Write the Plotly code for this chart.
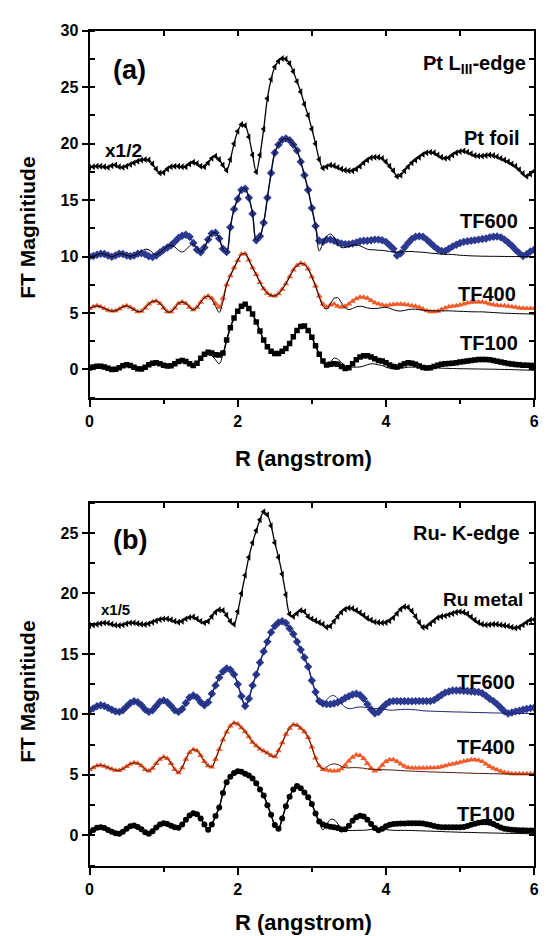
import numpy as np
import plotly.graph_objects as go

# R grid (angstrom), sampled every 0.05 from 0 to 6
R = [round(i * 0.05, 2) for i in range(121)]

# ---------------- Panel (a): Pt L_III-edge ----------------
pt_foil = [17.9, 17.95, 18.0, 18.0, 17.95, 17.9, 18.05, 18.1, 17.95, 17.9,
           18.0, 18.15, 18.3, 18.45, 18.55, 18.6, 18.55, 18.2, 17.75, 17.4,
           17.45, 17.75, 17.95, 18.0, 18.0, 17.95, 17.95, 18.2, 18.35, 18.25,
           18.0, 17.95, 18.3, 18.7, 18.9, 18.6, 18.1, 17.65, 18.6, 20.0,
           21.1, 21.7, 21.6, 20.6, 19.0, 17.5, 19.0, 21.3, 24.0, 25.7,
           26.8, 27.3, 27.55, 27.5, 27.1, 26.4, 25.5, 24.6, 23.5, 22.5,
           21.3, 20.0, 18.6, 17.85, 17.95, 18.1, 18.05, 17.9, 17.75, 17.65,
           17.6, 17.6, 17.75, 18.0, 18.3, 18.55, 18.75, 18.8, 18.8, 18.7,
           18.4, 18.0, 17.6, 17.1, 17.2, 17.6, 17.95, 18.3, 18.55, 18.8,
           19.05, 19.2, 19.25, 19.2, 19.0, 18.8, 18.7, 18.75, 19.0, 19.2,
           19.3, 19.35, 19.25, 19.1, 18.95, 18.9, 18.9, 18.95, 19.0, 18.95,
           18.85, 18.7, 18.55, 18.4, 18.2, 18.0, 17.7, 17.35, 17.1, 17.3,
           17.55]

tf600_a = [10.0, 10.05, 10.15, 10.25, 10.22, 10.1, 9.98, 10.1, 10.25, 10.22,
           10.1, 10.03, 10.1, 10.25, 10.3, 10.2, 10.02, 9.95, 10.1, 10.35,
           10.6, 10.8, 11.0, 11.3, 11.65, 11.85, 11.93, 11.75, 11.2, 10.6,
           10.38, 10.8, 11.5, 12.05, 12.1, 11.6, 10.7, 10.4, 12.6, 14.2,
           15.1, 15.9, 16.0, 15.2, 13.8, 11.45, 11.8, 13.0, 15.2, 17.4,
           19.2, 19.9, 20.35, 20.45, 20.3, 19.9, 19.4, 18.4, 17.2, 15.9,
           14.3, 12.7, 11.4, 11.3, 11.5, 11.5, 11.4, 11.25, 11.15, 11.1,
           11.1, 11.15, 11.25, 11.35, 11.4, 11.4, 11.45, 11.5, 11.5, 11.45,
           11.3, 11.0, 10.7, 10.1, 10.3, 10.8, 11.2, 11.55, 11.75, 11.8,
           11.75, 11.5, 11.2, 10.9, 10.65, 10.5, 10.5, 10.7, 10.9, 11.05,
           11.2, 11.3, 11.35, 11.4, 11.45, 11.5, 11.55, 11.6, 11.7, 11.75,
           11.78, 11.7, 11.5, 11.25, 10.95, 10.6, 10.3, 10.05, 10.2, 10.45,
           10.6]
fit600_a_low = [10.45, 10.65, 10.6, 10.35, 10.15, 10.35, 10.65, 10.9, 11.0, 10.85,
                10.55, 10.4, 10.6, 10.95, 11.1, 10.8, 10.4]          # R 0.70-1.50
fit600_a_tail = [10.5, 11.2, 11.8, 12.0, 11.7, 11.1, 10.8, 10.8, 10.9, 11.0,
                 11.05, 10.95, 10.8, 10.65, 10.6, 10.6, 10.55, 10.55, 10.5, 10.45,
                 10.4, 10.4, 10.4, 10.42, 10.45, 10.45, 10.42, 10.4, 10.38, 10.35,
                 10.3, 10.28, 10.25, 10.22, 10.2, 10.2, 10.18, 10.15, 10.12, 10.1,
                 10.08, 10.06, 10.05, 10.04, 10.03, 10.03, 10.02, 10.02, 10.02, 10.01,
                 10.01, 10.0, 10.0, 10.0, 10.0, 10.0, 10.0, 10.0, 10.0]   # R 3.10-6.00

tf400_a = [5.4, 5.55, 5.63, 5.55, 5.4, 5.25, 5.17, 5.2, 5.35, 5.55,
           5.63, 5.5, 5.3, 5.12, 5.15, 5.45, 5.8, 6.0, 6.07, 5.85,
           5.45, 5.1, 5.1, 5.45, 5.85, 5.98, 5.85, 5.5, 5.28, 5.5,
           5.95, 6.35, 6.5, 6.3, 5.85, 5.5, 6.3, 7.5, 8.3, 9.0,
           9.65, 10.2, 10.25, 9.7, 9.0, 8.4, 7.7, 7.15, 6.75, 6.55,
           6.5, 6.7, 7.1, 7.6, 8.2, 8.8, 9.2, 9.4, 9.3, 8.9,
           8.2, 7.4, 6.5, 5.8, 5.5, 5.7, 5.8, 5.6, 5.5, 5.6,
           5.8, 6.05, 6.25, 6.4, 6.4, 6.3, 6.1, 5.9, 5.8, 5.7,
           5.65, 5.7, 5.75, 5.78, 5.77, 5.75, 5.7, 5.65, 5.6, 5.5,
           5.35, 5.2, 5.12, 5.1, 5.15, 5.3, 5.45, 5.55, 5.6, 5.65,
           5.7, 5.8, 5.88, 5.95, 5.97, 5.98, 5.97, 5.9, 5.8, 5.72,
           5.68, 5.65, 5.63, 5.6, 5.55, 5.5, 5.45, 5.42, 5.4, 5.4,
           5.4]
fit400_a_low = [6.2, 5.6, 5.05, 6.0]                                 # R 1.65-1.80
fit400_a_tail = [6.4, 5.6, 5.35, 5.8, 6.3, 6.35, 5.9, 5.45, 5.3, 5.4,
                 5.55, 5.6, 5.55, 5.45, 5.4, 5.4, 5.42, 5.48, 5.5, 5.42,
                 5.3, 5.2, 5.18, 5.22, 5.3, 5.34, 5.34, 5.3, 5.25, 5.22,
                 5.2, 5.19, 5.18, 5.18, 5.19, 5.19, 5.18, 5.16, 5.15, 5.14,
                 5.12, 5.11, 5.1, 5.1, 5.1, 5.08, 5.06, 5.04, 5.02, 5.0,
                 4.98, 4.97, 4.96, 4.95, 4.94, 4.93, 4.92, 4.91, 4.9]

tf100_a = [0.12, 0.22, 0.28, 0.29, 0.22, 0.1, 0.0, 0.02, 0.15, 0.32,
           0.41, 0.35, 0.2, 0.05, 0.03, 0.2, 0.42, 0.55, 0.59, 0.5,
           0.38, 0.3, 0.32, 0.5, 0.7, 0.79, 0.7, 0.5, 0.35, 0.55,
           1.0, 1.35, 1.52, 1.45, 1.3, 1.28, 1.45, 2.6, 3.7, 4.55,
           5.15, 5.6, 5.78, 5.4, 4.9, 4.2, 3.4, 2.6, 2.0, 1.6,
           1.4, 1.4, 1.6, 1.85, 2.3, 2.9, 3.45, 3.8, 3.85, 3.45,
           2.85, 2.1, 1.35, 0.75, 0.4, 0.45, 0.5, 0.45, 0.25, 0.08,
           0.15, 0.5, 0.85, 1.1, 1.22, 1.2, 1.1, 0.95, 0.8, 0.75,
           0.6, 0.4, 0.25, 0.22, 0.35, 0.5, 0.58, 0.55, 0.45, 0.3,
           0.18, 0.12, 0.15, 0.25, 0.38, 0.45, 0.5, 0.52, 0.55, 0.6,
           0.65, 0.7, 0.75, 0.8, 0.84, 0.87, 0.88, 0.88, 0.86, 0.8,
           0.72, 0.65, 0.58, 0.52, 0.48, 0.44, 0.41, 0.38, 0.36, 0.35,
           0.35]
fit100_a_low = [0.35, 0.15, 0.2, 0.45, 0.7, 0.75, 0.6, 0.35, 0.25, 0.5,
                0.9, 1.2, 1.3, 1.2, 0.85, 0.5, 1.3]                  # R 1.00-1.80
fit100_a_tail = [1.35, 0.6, 0.2, 0.6, 1.0, 0.9, 0.6, 0.35, 0.25, 0.2,
                 0.2, 0.22, 0.3, 0.42, 0.5, 0.48, 0.4, 0.35, 0.2, 0.1,
                 0.06, 0.06, 0.1, 0.15, 0.2, 0.2, 0.2, 0.18, 0.16, 0.15,
                 0.14, 0.13, 0.12, 0.11, 0.1, 0.09, 0.08, 0.07, 0.06, 0.06,
                 0.05, 0.05, 0.04, 0.04, 0.03, 0.03, 0.02, 0.02, 0.01, 0.0,
                 0.0, -0.01, -0.02, -0.03, -0.04, -0.05, -0.06, -0.07, -0.08]

# ---------------- Panel (b): Ru K-edge ----------------
ru_metal = [17.35, 17.38, 17.45, 17.52, 17.57, 17.55, 17.45, 17.38, 17.35, 17.4,
            17.5, 17.57, 17.57, 17.52, 17.45, 17.43, 17.5, 17.62, 17.75, 17.85,
            17.9, 17.9, 17.82, 17.7, 17.62, 17.7, 17.9, 18.02, 18.05, 17.9,
            17.7, 17.57, 17.7, 18.1, 18.45, 18.65, 18.6, 18.2, 17.7, 17.45,
            18.5, 20.0, 21.5, 23.0, 24.2, 25.2, 26.1, 26.75, 26.5, 25.6,
            24.2, 23.0, 21.6, 19.9, 18.3, 18.1, 18.35, 18.6, 18.5, 18.1,
            17.9, 17.75, 17.6, 17.45, 17.2, 17.3, 17.7, 18.1, 18.45, 18.7,
            18.8, 18.75, 18.6, 18.4, 18.2, 17.95, 17.8, 17.65, 17.6, 17.57,
            17.6, 17.75, 18.0, 18.35, 18.7, 18.9, 18.85, 18.55, 18.1, 17.6,
            17.2, 17.25, 17.5, 17.75, 18.0, 18.1, 18.15, 18.25, 18.35, 18.45,
            18.5, 18.45, 18.3, 18.05, 17.8, 17.6, 17.45, 17.4, 17.42, 17.45,
            17.45, 17.4, 17.35, 17.3, 17.2, 17.15, 17.2, 17.4, 17.6, 17.8,
            17.85]

tf600_b = [10.35, 10.5, 10.68, 10.75, 10.7, 10.55, 10.38, 10.25, 10.21, 10.35,
           10.65, 10.95, 11.08, 11.0, 10.75, 10.4, 10.21, 10.35, 10.7, 11.05,
           11.16, 11.0, 10.7, 10.35, 10.21, 10.45, 10.95, 11.4, 11.57, 11.4,
           11.0, 10.75, 11.0, 11.7, 12.4, 13.05, 13.55, 13.8, 13.7, 13.3,
           12.5, 11.5, 10.7, 11.3, 12.4, 13.3, 14.3, 15.2, 16.0, 16.8,
           17.3, 17.6, 17.7, 17.55, 17.1, 16.65, 16.0, 15.35, 14.7, 13.95,
           12.8, 11.85, 11.1, 10.9, 10.85, 10.85, 10.9, 11.0, 11.15, 11.35,
           11.5, 11.65, 11.7, 11.6, 11.3, 10.85, 10.4, 10.1, 10.2, 10.55,
           10.85, 11.05, 11.1, 11.1, 11.08, 11.08, 11.08, 11.08, 11.1, 11.1,
           11.1, 11.1, 11.1, 11.2, 11.4, 11.6, 11.8, 11.9, 11.97, 11.98,
           11.97, 11.95, 11.93, 11.9, 11.88, 11.85, 11.75, 11.55, 11.3, 11.1,
           10.85, 10.55, 10.25, 10.08, 10.15, 10.25, 10.3, 10.38, 10.45, 10.52,
           10.55]
fit600_b_tail = [10.9, 10.8, 11.2, 11.5, 11.55, 11.3, 10.9, 10.6, 10.48, 10.5,
                 10.58, 10.62, 10.6, 10.55, 10.5, 10.48, 10.48, 10.45, 10.4, 10.35,
                 10.35, 10.38, 10.4, 10.42, 10.42, 10.4, 10.38, 10.35, 10.3, 10.28,
                 10.27, 10.26, 10.25, 10.24, 10.23, 10.22, 10.21, 10.2, 10.2, 10.19,
                 10.18, 10.17, 10.16, 10.16, 10.15, 10.14, 10.13, 10.12, 10.12, 10.11,
                 10.1, 10.1, 10.09, 10.09, 10.08, 10.08, 10.08, 10.08, 10.08]

tf400_b = [5.45, 5.6, 5.75, 5.8, 5.72, 5.6, 5.48, 5.38, 5.37, 5.5,
           5.7, 5.9, 6.0, 5.95, 5.75, 5.45, 5.32, 5.55, 5.95, 6.3,
           6.47, 6.35, 5.95, 5.45, 5.18, 5.6, 6.3, 6.85, 7.1, 7.0,
           6.6, 6.1, 5.75, 5.65, 6.3, 7.1, 7.9, 8.55, 9.05, 9.3,
           9.2, 8.9, 8.57, 8.15, 7.7, 7.4, 7.15, 6.97, 6.8, 6.6,
           6.5, 7.0, 7.65, 8.35, 8.85, 9.15, 9.1, 8.85, 8.57, 8.1,
           7.3, 6.4, 5.75, 5.45, 5.4, 5.35, 5.33, 5.35, 5.5, 5.8,
           6.15, 6.45, 6.65, 6.6, 6.35, 5.95, 5.55, 5.32, 5.45, 5.8,
           6.1, 6.25, 6.25, 6.1, 5.9, 5.72, 5.62, 5.58, 5.57, 5.57,
           5.58, 5.58, 5.59, 5.6, 5.62, 5.68, 5.75, 5.83, 5.9, 5.97,
           6.05, 6.12, 6.2, 6.25, 6.26, 6.22, 6.1, 5.9, 5.7, 5.55,
           5.42, 5.3, 5.2, 5.15, 5.1, 5.1, 5.1, 5.1, 5.1, 5.1,
           5.1]
fit400_b_tail = [5.75, 5.5, 5.65, 5.85, 5.91, 5.85, 5.7, 5.6, 5.58, 5.6,
                 5.6, 5.58, 5.55, 5.5, 5.47, 5.45, 5.44, 5.43, 5.42, 5.41,
                 5.4, 5.38, 5.36, 5.34, 5.32, 5.31, 5.3, 5.28, 5.27, 5.26,
                 5.25, 5.24, 5.23, 5.22, 5.21, 5.2, 5.19, 5.18, 5.17, 5.16,
                 5.15, 5.14, 5.13, 5.12, 5.12, 5.11, 5.1, 5.1, 5.09, 5.08,
                 5.08, 5.07, 5.07, 5.06, 5.06, 5.06, 5.05, 5.05, 5.05]

tf100_b = [0.27, 0.45, 0.62, 0.68, 0.6, 0.45, 0.3, 0.18, 0.14, 0.3,
           0.55, 0.75, 0.82, 0.7, 0.5, 0.25, 0.14, 0.35, 0.65, 0.9,
           1.0, 0.95, 0.8, 0.68, 0.63, 0.9, 1.3, 1.65, 1.83, 1.75,
           1.4, 0.9, 0.46, 0.9, 1.6, 2.3, 3.5, 4.4, 4.85, 5.15,
           5.3, 5.25, 5.1, 4.95, 4.7, 4.3, 3.8, 3.3, 2.5, 1.7,
           0.85, 0.55, 1.4, 2.4, 3.2, 3.8, 4.08, 3.9, 3.55, 3.15,
           2.6, 1.8, 1.15, 0.9, 0.8, 0.72, 0.68, 0.6, 0.48, 0.5,
           0.8, 1.2, 1.5, 1.63, 1.55, 1.3, 0.95, 0.6, 0.42, 0.55,
           0.75, 0.88, 0.95, 0.97, 0.98, 0.98, 1.0, 1.0, 1.0, 1.0,
           0.98, 0.92, 0.85, 0.78, 0.72, 0.68, 0.68, 0.68, 0.68, 0.68,
           0.68, 0.7, 0.78, 0.88, 0.97, 1.04, 1.08, 1.09, 1.05, 0.95,
           0.8, 0.65, 0.55, 0.5, 0.47, 0.45, 0.43, 0.42, 0.41, 0.41,
           0.41]
fit100_b_tail = [1.1, 0.45, 0.9, 1.3, 1.3, 0.95, 0.6, 0.42, 0.4, 0.4,
                 0.41, 0.42, 0.42, 0.45, 0.5, 0.53, 0.54, 0.52, 0.48, 0.44,
                 0.42, 0.41, 0.41, 0.41, 0.41, 0.4, 0.39, 0.38, 0.37, 0.36,
                 0.35, 0.34, 0.33, 0.32, 0.3, 0.29, 0.28, 0.27, 0.26, 0.25,
                 0.25, 0.24, 0.23, 0.22, 0.21, 0.21, 0.2, 0.19, 0.19, 0.18,
                 0.17, 0.17, 0.16, 0.16, 0.15, 0.15, 0.14, 0.14, 0.14]

# fitted curves: coincide with the data at low R, deviate elsewhere
T = 62  # index of R = 3.10
fit600_a = tf600_a[:14] + fit600_a_low + tf600_a[31:T] + fit600_a_tail
fit400_a = tf400_a[:33] + fit400_a_low + tf400_a[37:T] + fit400_a_tail
fit100_a = tf100_a[:20] + fit100_a_low + tf100_a[37:T] + fit100_a_tail
fit600_b = tf600_b[:T] + fit600_b_tail
fit400_b = tf400_b[:T] + fit400_b_tail
fit100_b = tf100_b[:T] + fit100_b_tail

BLUE = "#2B3990"
ORANGE = "#F15A29"
FONT = "Liberation Sans, Arial, sans-serif"

fig = go.Figure()


def data_trace(y, color, symbol, size, xa, ya, lw=1.5):
    return go.Scatter(
        x=R, y=y, xaxis=xa, yaxis=ya, mode="lines+markers",
        line=dict(color=color, width=lw, shape="spline"),
        marker=dict(symbol=symbol, size=size, color=color, line=dict(width=0)),
        showlegend=False, hoverinfo="skip")


def fit_trace(y, color, xa, ya):
    return go.Scatter(x=R, y=y, xaxis=xa, yaxis=ya, mode="lines",
                      line=dict(color=color, width=1, shape="spline"),
                      showlegend=False, hoverinfo="skip")


# panel (a)
fig.add_trace(data_trace(pt_foil, "black", "triangle-left", 6, "x", "y", lw=1.3))
fig.add_trace(data_trace(tf600_a, BLUE, "diamond", 6.5, "x", "y"))
fig.add_trace(data_trace(tf400_a, ORANGE, "triangle-up", 6, "x", "y"))
fig.add_trace(data_trace(tf100_a, "black", "square", 5.5, "x", "y"))
fig.add_trace(fit_trace(fit600_a, "black", "x", "y"))
fig.add_trace(fit_trace(fit400_a, "black", "x", "y"))
fig.add_trace(fit_trace(fit100_a, "black", "x", "y"))

# panel (b)
fig.add_trace(data_trace(ru_metal, "black", "triangle-left", 6, "x2", "y2", lw=1.3))
fig.add_trace(data_trace(tf600_b, BLUE, "diamond", 6.5, "x2", "y2"))
fig.add_trace(data_trace(tf400_b, ORANGE, "triangle-up", 6, "x2", "y2"))
fig.add_trace(data_trace(tf100_b, "black", "circle", 6, "x2", "y2"))
fig.add_trace(fit_trace(fit600_b, "#1a2470", "x2", "y2"))
fig.add_trace(fit_trace(fit400_b, "#4a1a08", "x2", "y2"))
fig.add_trace(fit_trace(fit100_b, "black", "x2", "y2"))

# dummy traces so the mirror axes are drawn
for xa, ya in (("x3", "y3"), ("x4", "y4")):
    fig.add_trace(go.Scatter(x=[None], y=[None], xaxis=xa, yaxis=ya,
                             mode="markers", showlegend=False, hoverinfo="skip"))

W, H = 546, 936
xdom = [87 / W, 539 / W]
ydom_a = [1 - 393 / H, 1 - 23 / H]
ydom_b = [1 - 865 / H, 1 - 499 / H]

tickfont = dict(family=FONT, size=16, color="black", weight="bold")

common_x = dict(range=[0, 6], domain=xdom, showgrid=False, zeroline=False,
                showline=True, linecolor="black", linewidth=2,
                ticks="outside", ticklen=7, tickwidth=2, tickcolor="black",
                dtick=2, tick0=0, tickfont=tickfont, ticklabelstandoff=1,
                minor=dict(dtick=1, ticks="outside", ticklen=4, tickwidth=2,
                           tickcolor="black", showgrid=False))
common_y = dict(showgrid=False, zeroline=False,
                showline=True, linecolor="black", linewidth=2,
                ticks="outside", ticklen=6, tickwidth=2, tickcolor="black",
                dtick=5, tick0=0, tickfont=tickfont,
                minor=dict(dtick=2.5, ticks="inside", ticklen=5, tickwidth=2,
                           tickcolor="black", showgrid=False))
mirror_x = dict(range=[0, 6], domain=xdom, showgrid=False, zeroline=False,
                showline=True, linecolor="black", linewidth=2, side="top",
                ticks="inside", ticklen=5, tickwidth=2, tickcolor="black",
                dtick=1, tick0=0, showticklabels=False)
mirror_y = dict(showgrid=False, zeroline=False, side="right",
                showline=True, linecolor="black", linewidth=2,
                ticks="inside", ticklen=5, tickwidth=2, tickcolor="black",
                dtick=2.5, tick0=0, showticklabels=False)

fig.update_layout(
    width=W, height=H, margin=dict(l=0, r=0, t=0, b=0),
    paper_bgcolor="white", plot_bgcolor="white", showlegend=False,
    xaxis=dict(common_x, anchor="y"),
    yaxis=dict(common_y, domain=ydom_a, range=[-2.5, 30], anchor="x"),
    xaxis2=dict(common_x, anchor="y2"),
    yaxis2=dict(common_y, domain=ydom_b, range=[-2.5, 27.5], anchor="x2"),
    xaxis3=dict(mirror_x, anchor="y", overlaying="x"),
    yaxis3=dict(mirror_y, domain=ydom_a, range=[-2.5, 30], anchor="x", overlaying="y"),
    xaxis4=dict(mirror_x, anchor="y2", overlaying="x2"),
    yaxis4=dict(mirror_y, domain=ydom_b, range=[-2.5, 27.5], anchor="x2", overlaying="y2"),
)


def ann(text, px, py, size, xanchor="center", angle=0):
    fig.add_annotation(text=text, x=px / W, y=1 - py / H, xref="paper", yref="paper",
                       xanchor=xanchor, yanchor="middle", showarrow=False,
                       textangle=angle,
                       font=dict(family=FONT, size=size, color="black", weight="bold"))


# panel (a) labels
ann("(a)", 128, 63, 27)
ann("Pt L<sub>III</sub>-edge", 533, 57, 20, "right")
ann("Pt foil", 527, 131, 20, "right")
ann("x1/2", 122, 144, 19)
ann("TF600", 525, 215, 20, "right")
ann("TF400", 523, 288, 20, "right")
ann("TF100", 525, 338, 20, "right")
ann("FT Magnitiude", 23, 222, 21, angle=-90)
ann("R (angstrom)", 305, 454, 22)

# panel (b) labels
ann("(b)", 128, 537, 27)
ann("Ru- K-edge", 527, 530, 20, "right")
ann("Ru metal", 530, 597, 19, "right")
ann("x1/5", 113, 607, 15)
ann("TF600", 522, 680, 20, "right")
ann("TF400", 522, 745, 20, "right")
ann("TF100", 522, 813, 20, "right")
ann("FT Magnitiude", 23, 690, 21, angle=-90)
ann("R (angstrom)", 305, 922, 22)

fig.write_html("out.html")
